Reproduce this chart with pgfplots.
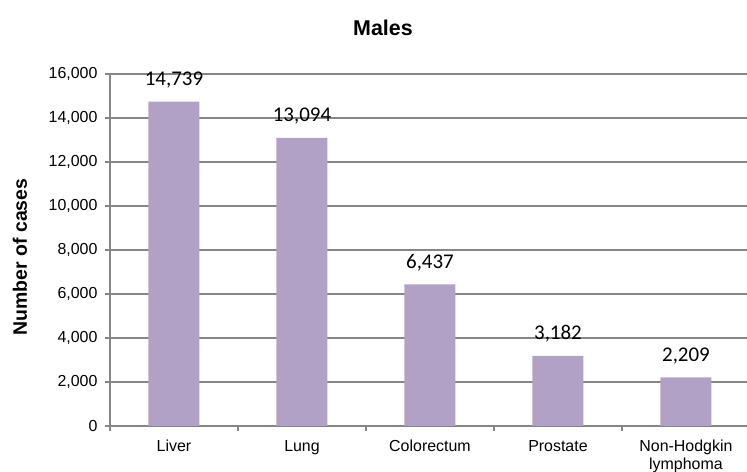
\documentclass[border=0pt]{standalone}
\usepackage{pgfplots}
\pgfplotsset{compat=1.18}
\usepackage{fontspec}
\setmainfont{Liberation Sans}
\newfontfamily\calibri{Carlito}
\definecolor{barcol}{RGB}{178,161,199}
\definecolor{gridcol}{RGB}{134,134,134}
\newcommand\tl[1]{\begin{tabular}[t]{@{}c@{}}#1\end{tabular}}
\begin{document}
\begin{tikzpicture}[x=1bp,y=1bp]
\path[use as bounding box] (-110,-46) rectangle (637,426);
\begin{axis}[
  at={(0,0)}, anchor=south west,
  scale only axis,
  width=637bp, height=352bp,
  xmin=-0.5, xmax=4.477,
  ymin=0, ymax=16000,
  axis lines*=left,
  axis line style={gridcol, line width=1.2bp},
  ytick={0,2000,...,16000},
  ymajorgrids,
  major grid style={gridcol, line width=1.2bp},
  xtick={0,1,2,3,4},
  xticklabels={\tl{Liver},\tl{Lung},\tl{Colorectum},\tl{Prostate},\tl{Non-Hodgkin\\lymphoma}},
  minor xtick={-0.5,0.5,1.5,2.5,3.5},
  tick align=outside,
  major tick length=5bp,
  minor tick length=5bp,
  major x tick style={draw=none},
  ytick style={gridcol, line width=1.2bp},
  minor x tick style={gridcol, line width=1.2bp},
  xticklabel style={font=\fontsize{16}{18}\selectfont, anchor=north, yshift=-4.5bp},
  yticklabel style={font=\fontsize{16}{17}\selectfont, xshift=-4bp},
  /pgf/number format/.cd, 1000 sep={,}, assume math mode=true,
  /pgfplots/.cd,
  scaled y ticks=false,
  nodes near coords,
  every node near coord/.append style={font=\calibri\fontsize{21}{23}\selectfont, anchor=base, yshift=16bp, text=black},
]
\addplot[ybar, bar width=51bp, fill=barcol, draw=none] coordinates {
  (0,14739) (1,13094) (2,6437) (3,3182) (4,2209)
};
\end{axis}
\node[font=\bfseries\fontsize{21.5}{24}\selectfont] at (273,398) {Males};
\node[font=\bfseries\fontsize{19.5}{21}\selectfont, rotate=90] at (-90,169) {Number of cases};
\end{tikzpicture}
\end{document}
